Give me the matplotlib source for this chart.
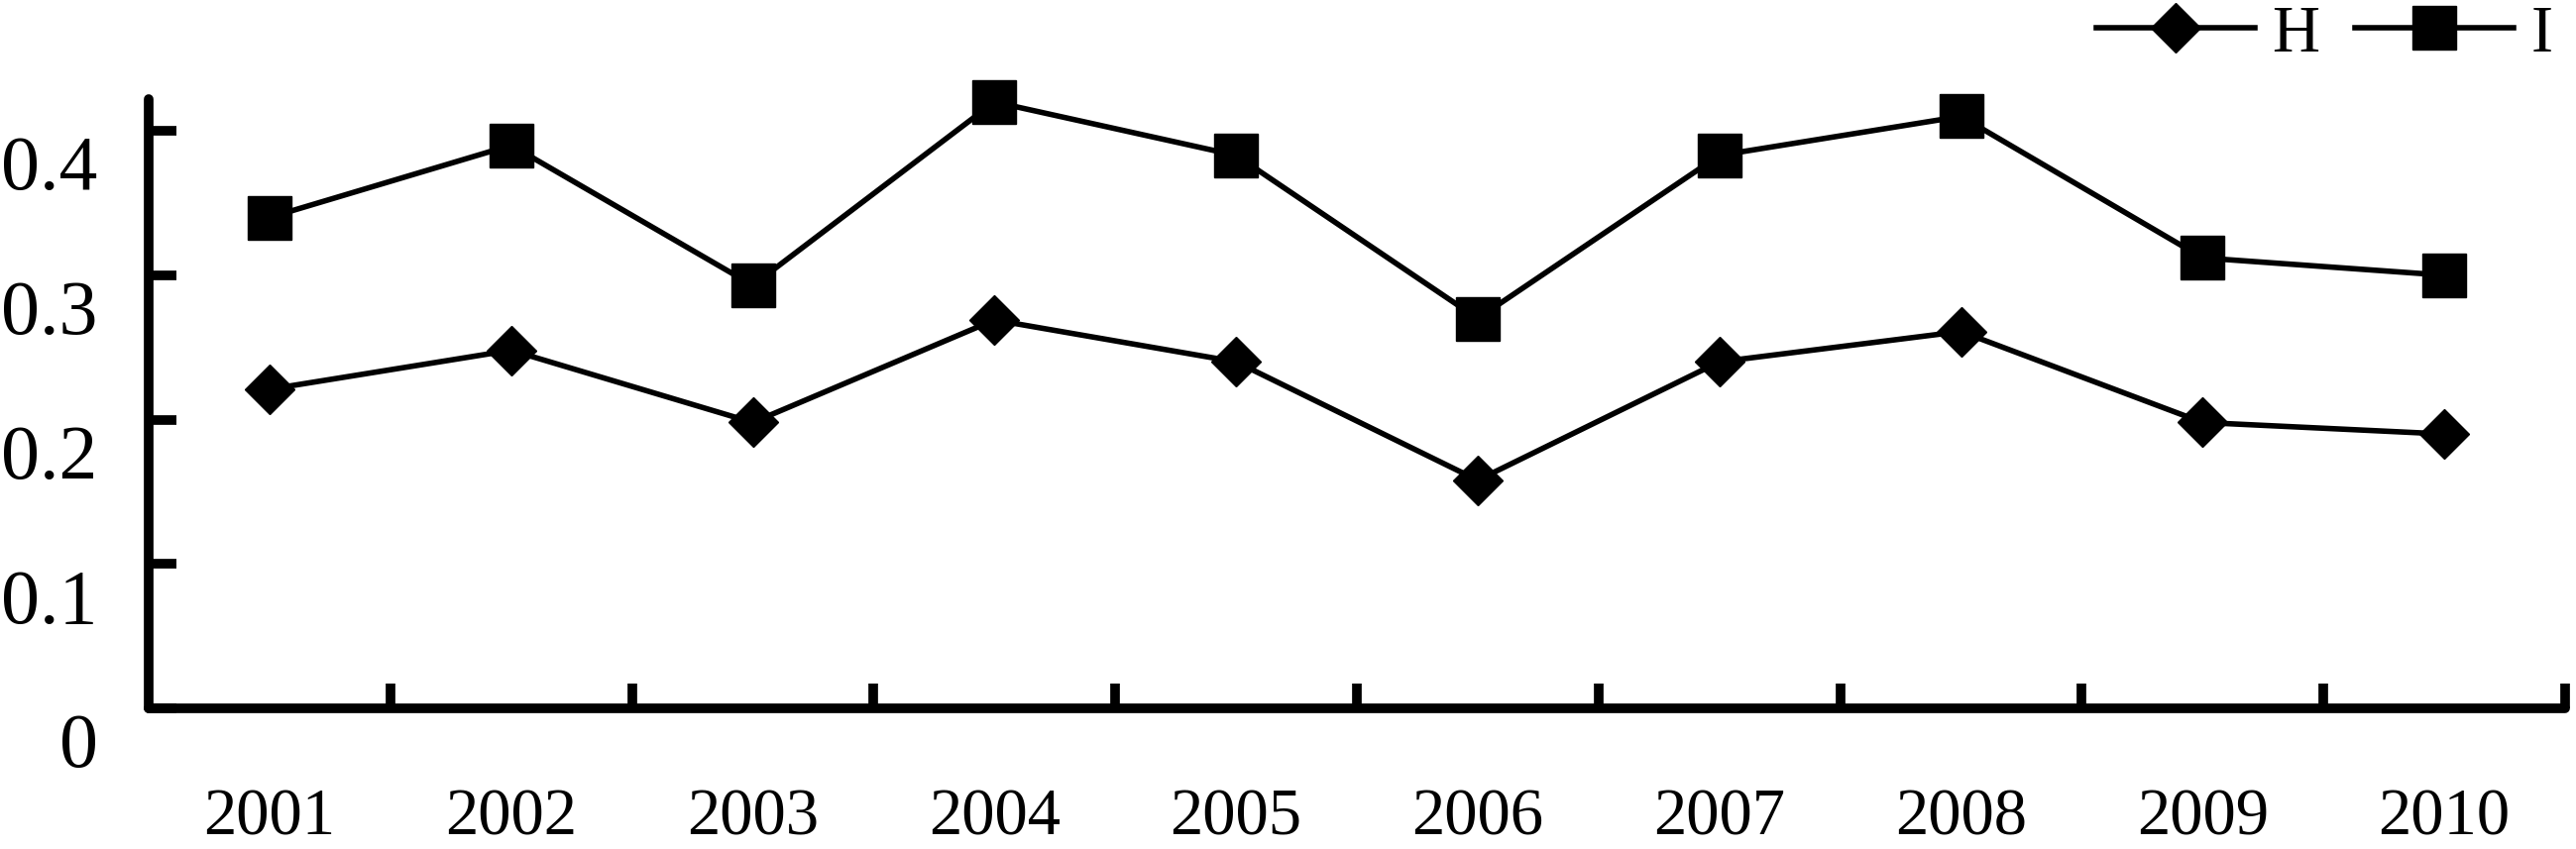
import matplotlib
matplotlib.use("Agg")
import matplotlib.pyplot as plt
import matplotlib.transforms as mtransforms

years = ["2001", "2002", "2003", "2004", "2005", "2006", "2007", "2008", "2009", "2010"]
H = [0.221, 0.248, 0.198, 0.269, 0.240, 0.158, 0.240, 0.261, 0.198, 0.190]
I = [0.340, 0.390, 0.293, 0.420, 0.383, 0.270, 0.383, 0.410, 0.312, 0.300]
yticks = [0, 0.1, 0.2, 0.3, 0.4]
ytick_labels = ["0", "0.1", "0.2", "0.3", "0.4"]

plt.rcParams['font.family'] = ['Liberation Serif', 'DejaVu Serif']

W, Hpx = 2599, 857
dpi = 100
fig = plt.figure(figsize=(W / dpi, Hpx / dpi), dpi=dpi)
left = 150 / W
right = 2588 / W
bottom = 1 - 715 / Hpx
top = 1 - 100 / Hpx
ax = fig.add_axes([left, bottom, right - left, top - bottom])

x = list(range(len(years)))
ax.plot(x, H, color="black", lw=4, marker="D", ms=25, label="H", clip_on=False)
ax.plot(x, I, color="black", lw=4, marker="s", ms=31, label="I", clip_on=False)

ax.set_xlim(-0.5, len(years) - 0.5)
ax.set_ylim(0, 0.422)

for s in ["top", "right"]:
    ax.spines[s].set_visible(False)
for s in ["left", "bottom"]:
    ax.spines[s].set_linewidth(7)
    ax.spines[s].set_capstyle("round")

# y axis ticks
ax.set_yticks(yticks)
ax.set_yticklabels(ytick_labels, fontsize=56)
ax.tick_params(axis="y", direction="in", length=20, width=7, pad=37)
offset = mtransforms.ScaledTranslation(0, -32 / dpi, fig.dpi_scale_trans)
for lab in ax.get_yticklabels():
    lab.set_transform(lab.get_transform() + offset)

# x axis: boundary ticks (major) and centered labels (minor)
ax.set_xticks([i + 0.5 for i in x])
ax.set_xticklabels([])
ax.set_xticks(x, minor=True)
ax.set_xticklabels(years, minor=True, fontsize=48)
ax.tick_params(axis="x", which="major", direction="in", length=18, width=7)
ax.tick_params(axis="x", which="minor", length=0, pad=58)

leg = fig.legend(loc="center left", bbox_to_anchor=(2115 / W, 1 - 35 / Hpx),
                 ncol=2, frameon=False, fontsize=48, handlelength=2.4,
                 handletextpad=0.25, columnspacing=0.55, borderpad=0,
                 borderaxespad=0)

fig.savefig("out.png", dpi=dpi, facecolor="white")
